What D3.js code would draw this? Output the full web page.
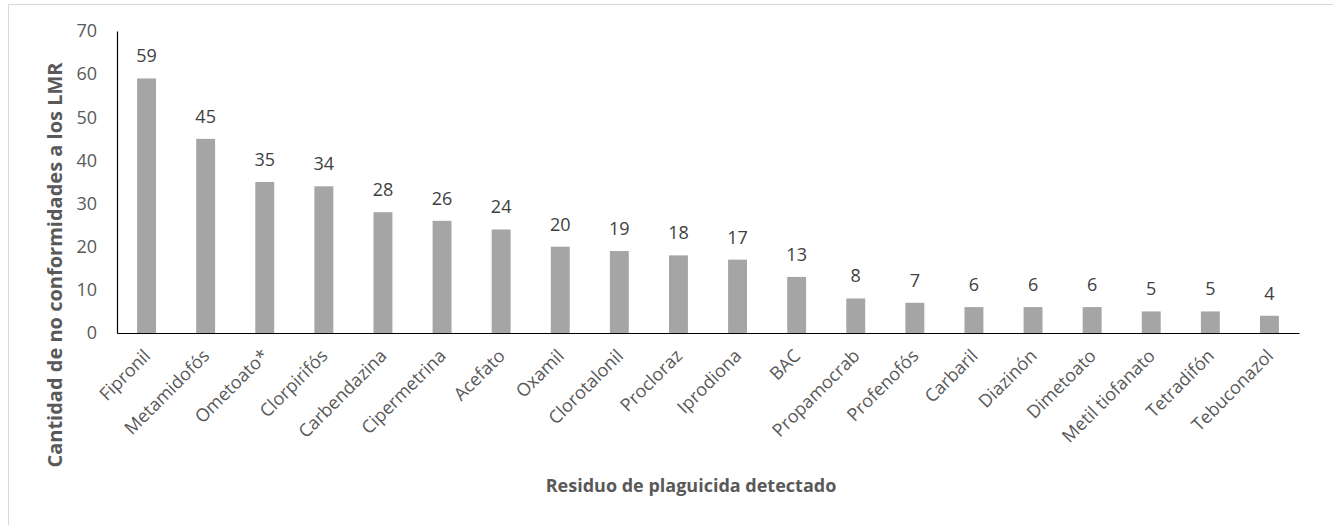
<!DOCTYPE html>
<html>
<head>
<meta charset="utf-8">
<script src="https://cdn.jsdelivr.net/npm/d3@7"></script>
<style>
  body { margin: 0; background: #fff; }
  svg { display: block; font-family: "Open Sans", "Noto Sans", sans-serif; }
</style>
</head>
<body>
<div id="chart"></div>
<script>
// residues and non-conformity counts
var residues = ["Fipronil", "Metamidofós", "Ometoato*", "Clorpirifós", "Carbendazina",
  "Cipermetrina", "Acefato", "Oxamil", "Clorotalonil", "Procloraz", "Iprodiona", "BAC",
  "Propamocrab", "Profenofós", "Carbaril", "Diazinón", "Dimetoato", "Metil tiofanato",
  "Tetradifón", "Tebuconazol"];
var counts = [59, 45, 35, 34, 28, 26, 24, 20, 19, 18, 17, 13, 8, 7, 6, 6, 6, 5, 5, 4];
var yTicks = [0, 10, 20, 30, 40, 50, 60, 70];

var W = 1333, H = 525;
var margin = {top: 31, right: 34, bottom: 192, left: 117},
    width = W - margin.left - margin.right,
    height = H - margin.top - margin.bottom;

var svg = d3.select("#chart")
  .append("svg")
    .attr("width", W)
    .attr("height", H);

// outer chart border
svg.append("rect")
  .attr("x", 8.5).attr("y", 4.5)
  .attr("width", W + 10).attr("height", H + 10)
  .attr("fill", "none")
  .attr("stroke", "#d9d9d9");

var g = svg.append("g")
  .attr("transform", "translate(" + margin.left + "," + margin.top + ")");

var x = d3.scaleBand()
  .domain(residues)
  .range([0, width])
  .paddingInner(0.68)
  .paddingOuter(0.34);

var y = d3.scaleLinear()
  .domain([0, 70])
  .range([height, 0]);

/** bars */
g.selectAll(".bar")
  .data(residues)
  .enter()
  .append("rect")
    .attr("class", "bar")
    .attr("x", function(d) { return x(d) })
    .attr("width", x.bandwidth())
    .attr("y", function(d, i) { return y(counts[i]) })
    .attr("height", function(d, i) { return height - y(counts[i]) })
    .attr("fill", "#a5a5a5");

/** value labels */
g.selectAll(".val")
  .data(residues)
  .enter()
  .append("text")
    .attr("x", function(d) { return x(d) + x.bandwidth() / 2 })
    .attr("y", function(d, i) { return y(counts[i]) - 16 })
    .attr("text-anchor", "middle")
    .style("font-size", "18px")
    .style("fill", "#404040")
    .text(function(d, i) { return counts[i] });

/** y axis */
var yAxis = g.append("g")
  .call(d3.axisLeft(y).tickValues(yTicks).tickSize(0).tickPadding(20));
yAxis.select(".domain").attr("stroke", "#000").attr("stroke-width", 1.2);
yAxis.selectAll("text")
  .style("font-size", "18px")
  .style("fill", "#595959")
  .style("font-family", "'Open Sans', sans-serif");

/** x axis */
var xAxis = g.append("g")
  .attr("transform", "translate(0," + height + ")")
  .call(d3.axisBottom(x).tickSize(0).tickPadding(0));
xAxis.select(".domain").attr("stroke", "#000").attr("stroke-width", 1.2);
xAxis.selectAll("text")
  .attr("text-anchor", "end")
  .attr("dy", "0")
  .attr("transform", "translate(5,24) rotate(-45)")
  .style("font-size", "18px")
  .style("fill", "#595959")
  .style("font-family", "'Open Sans', sans-serif");

/** axis titles */
svg.append("text")
  .attr("transform", "translate(62,265) rotate(-90)")
  .attr("text-anchor", "middle")
  .style("font-size", "20px")
  .style("font-weight", "bold")
  .style("fill", "#595959")
  .text("Cantidad de no conformidades a los LMR");

svg.append("text")
  .attr("x", 691)
  .attr("y", 492)
  .attr("text-anchor", "middle")
  .style("font-size", "18px")
  .style("font-weight", "bold")
  .style("fill", "#595959")
  .text("Residuo de plaguicida detectado");
</script>
</body>
</html>
